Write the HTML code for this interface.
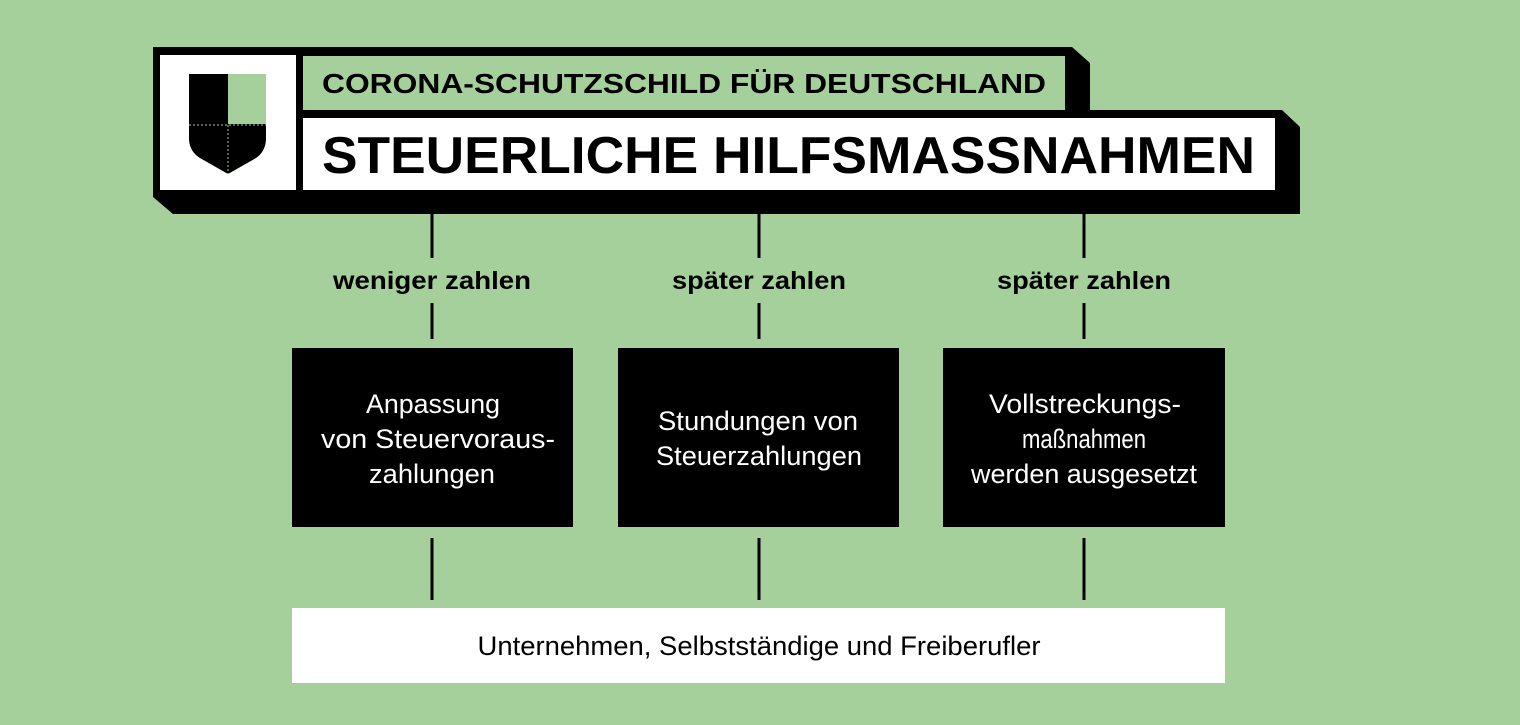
<!DOCTYPE html>
<html><head><meta charset="utf-8"><style>
html,body{margin:0;padding:0;background:#a5cf9b;}
svg{display:block}
text{font-family:"Liberation Sans","DejaVu Sans",sans-serif;}
</style></head><body>
<svg width="1520" height="725" viewBox="0 0 1520 725" xmlns="http://www.w3.org/2000/svg">
<rect x="0" y="0" width="1520" height="725" fill="#a5cf9b"/>
<polygon points="153,47 1072,47 1090,63 1090,110 1282,110 1300,127 1300,214 173,214 153,197" fill="#000"/>
<rect x="160" y="55" width="136" height="135" fill="#fff"/>
<rect x="303" y="56" width="762" height="54" fill="#a5cf9b"/>
<rect x="303" y="118" width="972" height="72" fill="#fff"/>
<rect x="189" y="74" width="39" height="51" fill="#000"/>
<rect x="228" y="74" width="38" height="51" fill="#a5cf9b"/>
<path d="M189,124 L266,124 L266,140 Q265,152 256,158 L228,174 L200,158 Q190,152 189,140 Z" fill="#000"/>
<line x1="189" y1="125" x2="266" y2="125" stroke="#a5cf9b" stroke-width="1" stroke-dasharray="2,2"/>
<line x1="228" y1="125" x2="228" y2="174" stroke="#a5cf9b" stroke-width="1" stroke-dasharray="2,2"/>
<text x="322" y="93" font-size="28" font-weight="bold" fill="#000" textLength="724" lengthAdjust="spacingAndGlyphs">CORONA-SCHUTZSCHILD FÜR DEUTSCHLAND</text>
<text x="322" y="173" font-size="52" font-weight="bold" fill="#000" textLength="933" lengthAdjust="spacingAndGlyphs">STEUERLICHE HILFSMASSNAHMEN</text>
<g stroke="#000" stroke-width="3">
<line x1="432" y1="214" x2="432" y2="258"/><line x1="432" y1="303" x2="432" y2="339"/><line x1="432" y1="538" x2="432" y2="600"/>
<line x1="759" y1="214" x2="759" y2="258"/><line x1="759" y1="303" x2="759" y2="339"/><line x1="759" y1="538" x2="759" y2="600"/>
<line x1="1084" y1="214" x2="1084" y2="258"/><line x1="1084" y1="303" x2="1084" y2="339"/><line x1="1084" y1="538" x2="1084" y2="600"/>
</g>
<g font-size="25" font-weight="bold" fill="#000" text-anchor="middle" lengthAdjust="spacingAndGlyphs">
<text x="432" y="289" textLength="198" lengthAdjust="spacingAndGlyphs">weniger zahlen</text>
<text x="759" y="289" textLength="174" lengthAdjust="spacingAndGlyphs">später zahlen</text>
<text x="1084" y="289" textLength="174" lengthAdjust="spacingAndGlyphs">später zahlen</text>
</g>
<rect x="292" y="348" width="281" height="179" fill="#000"/>
<rect x="618" y="348" width="281" height="179" fill="#000"/>
<rect x="943" y="348" width="282" height="179" fill="#000"/>
<g font-size="27" fill="#fff" text-anchor="middle">
<text x="433" y="413" textLength="134" lengthAdjust="spacingAndGlyphs">Anpassung</text>
<text x="438" y="448" textLength="234" lengthAdjust="spacingAndGlyphs">von Steuervoraus-</text>
<text x="432" y="483" textLength="126" lengthAdjust="spacingAndGlyphs">zahlungen</text>
<text x="758" y="430" textLength="200" lengthAdjust="spacingAndGlyphs">Stundungen von</text>
<text x="759" y="465" textLength="206" lengthAdjust="spacingAndGlyphs">Steuerzahlungen</text>
<text x="1085" y="413" textLength="192" lengthAdjust="spacingAndGlyphs">Vollstreckungs-</text>
<text x="1084" y="448" textLength="124" lengthAdjust="spacingAndGlyphs">maßnahmen</text>
<text x="1084" y="483" textLength="226" lengthAdjust="spacingAndGlyphs">werden ausgesetzt</text>
</g>
<rect x="292" y="608" width="933" height="75" fill="#fff"/>
<text x="759" y="655" font-size="27" fill="#000" text-anchor="middle" textLength="563" lengthAdjust="spacingAndGlyphs">Unternehmen, Selbstständige und Freiberufler</text>
</svg>
</body></html>
